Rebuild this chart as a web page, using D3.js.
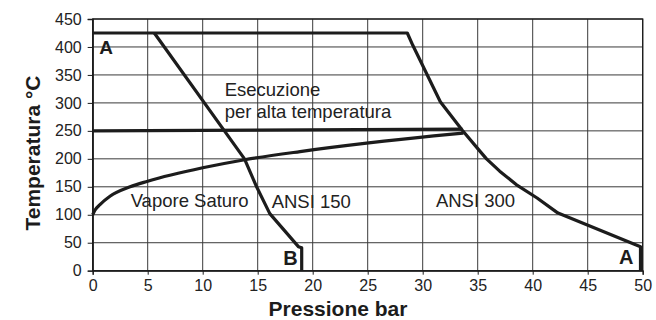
<!DOCTYPE html>
<html>
<head>
<meta charset="utf-8">
<script src="https://cdn.jsdelivr.net/npm/d3@7"></script>
<style>
    body { margin: 0; background: #fff; }
    svg { display: block; font-family: "Liberation Sans", Arial, sans-serif; }
</style>
</head>
<body>
<div class="graph"></div>
<script>
// tick values
const pressTicks = [0, 5, 10, 15, 20, 25, 30, 35, 40, 45, 50];
const tempTicks = [0, 50, 100, 150, 200, 250, 300, 350, 400, 450];

// curve A: 425 °C limit then ANSI 300 rating
const ansi300P = [0, 28.6, 29.1, 31.6, 33.6, 35.1, 35.8, 37.0, 38.5, 40.4, 42.3, 49.8, 49.8];
const ansi300T = [425, 425, 403, 302, 251, 216, 200, 178, 154, 130, 103, 43, 0];

// curve B: ANSI 150 rating
const ansi150P = [5.6, 13.8, 14.9, 16.1, 18.7, 19.0, 19.0];
const ansi150T = [425, 200, 150, 102, 43, 41, 0];

// saturated steam
const vaporP = [0, 0.2, 0.66, 1.57, 3.4, 5, 10, 13.7, 18.85, 24.9, 31, 33.7];
const vaporT = [100, 108, 118, 133, 150, 160, 184, 198, 213, 228, 241, 246];

// high temperature execution threshold
const altaP = [0, 33.6];
const altaT = [250, 253];

const labels = ['Esecuzione', 'per alta temperatura', 'Vapore Saturo', 'ANSI 150', 'ANSI 300'];
const labelP = [12.0, 12.0, 3.45, 16.27, 31.2];
const labelT = [312.5, 273.6, 113, 111.4, 113.8];

const markers = ['A', 'B', 'A'];
const markerP = [0.6, 17.33, 47.85];
const markerT = [388, 10, 11.4];

const svgDim = {
    w: 656,
    h: 320,
    left: 92.7,
    right: 13.3,
    top: 19,
    bottom: 49.3
}

const svg = d3.select('.graph').append('svg').attr('width', svgDim.w).attr('height', svgDim.h);

const xScale = d3.scaleLinear()
    .domain([0, 50])
    .range([svgDim.left, svgDim.w - svgDim.right]);

const yScale = d3.scaleLinear()
    .domain([0, 450])
    .range([svgDim.h - svgDim.bottom, svgDim.top]);

const ink = '#1c1c1c';

// grid
const grid = svg.append('g');
grid.selectAll('.vg').data(pressTicks).join('line')
    .attr('x1', d => xScale(d)).attr('x2', d => xScale(d))
    .attr('y1', yScale(0)).attr('y2', yScale(450))
    .attr('stroke', '#3a3a3a').attr('stroke-width', 1);
grid.selectAll('.hg').data(tempTicks).join('line')
    .attr('x1', xScale(0)).attr('x2', xScale(50))
    .attr('y1', d => yScale(d)).attr('y2', d => yScale(d))
    .attr('stroke', '#3a3a3a').attr('stroke-width', 1);

svg.append('rect')
    .attr('x', xScale(0)).attr('y', yScale(450))
    .attr('width', xScale(50) - xScale(0)).attr('height', yScale(0) - yScale(450))
    .attr('fill', 'none').attr('stroke', ink).attr('stroke-width', 1.3);

// axes
const xAxis = d3.axisBottom(xScale).tickValues(pressTicks).tickSize(4).tickPadding(5);
const gx = svg.append('g').attr('transform', `translate(0,${yScale(0)})`).call(xAxis);

const yAxis = d3.axisLeft(yScale).tickValues(tempTicks).tickSize(5).tickPadding(6);
const gy = svg.append('g').attr('transform', `translate(${xScale(0)},0)`).call(yAxis);

[gx, gy].forEach(g => {
    g.select('.domain').attr('stroke', ink).attr('stroke-width', 1.3);
    g.selectAll('.tick line').attr('stroke', ink);
    g.selectAll('.tick text').attr('font-family', '"Liberation Sans", Arial, sans-serif')
        .attr('font-size', 16).attr('fill', '#222');
});

svg.append('text')
    .attr('x', 338).attr('y', 316)
    .attr('text-anchor', 'middle').attr('font-size', 21).attr('font-weight', 'bold').attr('fill', ink)
    .text('Pressione bar');

svg.append('text')
    .attr('transform', 'translate(40,153) rotate(-90)')
    .attr('text-anchor', 'middle').attr('font-size', 21).attr('font-weight', 'bold').attr('fill', ink)
    .text('Temperatura °C');

// curves
const plotLine = (ps, ts, curve) => {
    const pts = ps.map((p, i) => [p, ts[i]]);
    const gen = d3.line().x(d => xScale(d[0])).y(d => yScale(d[1])).curve(curve);
    svg.append('path').datum(pts).attr('d', gen)
        .attr('fill', 'none').attr('stroke', ink).attr('stroke-width', 3.2)
        .attr('stroke-linejoin', 'round');
}

plotLine(altaP, altaT, d3.curveLinear);
plotLine(vaporP, vaporT, d3.curveMonotoneX);
plotLine(ansi150P, ansi150T, d3.curveLinear);
plotLine(ansi300P, ansi300T, d3.curveLinear);

// annotations
labels.forEach((t, i) => {
    svg.append('text')
        .attr('x', xScale(labelP[i])).attr('y', yScale(labelT[i]))
        .attr('font-size', 18.5).attr('fill', '#222')
        .text(t);
});

markers.forEach((t, i) => {
    svg.append('text')
        .attr('x', xScale(markerP[i])).attr('y', yScale(markerT[i]))
        .attr('font-size', i == 0 ? 19 : 20).attr('font-weight', 'bold').attr('fill', ink)
        .text(t);
});
</script>
</body>
</html>
